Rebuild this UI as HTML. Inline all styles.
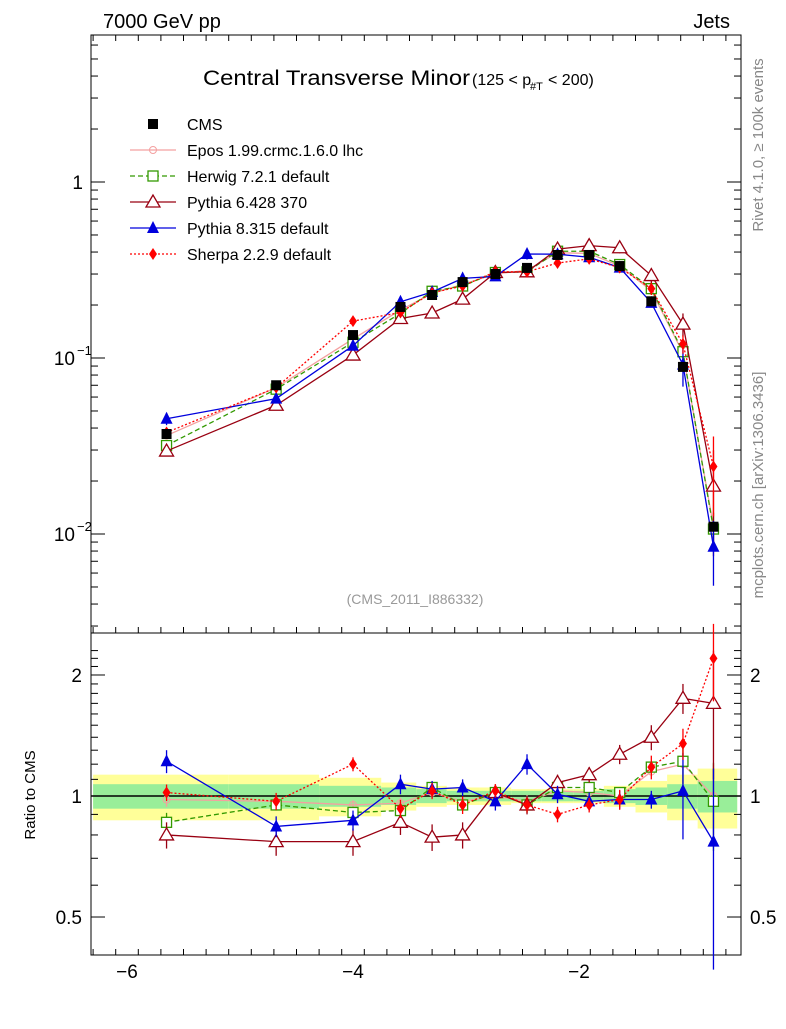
<!DOCTYPE html>
<html><head><meta charset="utf-8"><style>
body{margin:0;background:#fff;}
svg text{font-family:"Liberation Sans",sans-serif;}
</style></head><body>
<svg id="c" width="786" height="1024" xmlns="http://www.w3.org/2000/svg"></svg>
<script>
const xs = [-5.65,-4.68,-4.0,-3.58,-3.30,-3.03,-2.74,-2.46,-2.19,-1.91,-1.64,-1.36,-1.08,-0.81];
const edges = [-6.3,-5.1,-4.3,-3.75,-3.44,-3.17,-2.88,-2.6,-2.33,-2.05,-1.78,-1.5,-1.22,-0.95,-0.6];
const cms = [0.037,0.070,0.135,0.195,0.228,0.27,0.30,0.325,0.385,0.385,0.333,0.21,0.089,0.011];
const bandIn = [0.07,0.07,0.06,0.05,0.04,0.03,0.03,0.03,0.03,0.03,0.04,0.05,0.07,0.09];
const bandOut = [0.13,0.13,0.11,0.08,0.06,0.05,0.05,0.04,0.04,0.04,0.06,0.09,0.13,0.17];
const rEpos = [0.98,0.97,0.95,0.96,1.02,0.97,1.0,0.97,1.03,1.02,1.0,1.15,1.2,1.0];
const rHerwig = [0.86,0.95,0.91,0.92,1.05,0.95,1.02,0.95,1.05,1.05,1.02,1.18,1.22,0.97];
const rPy6 = [0.80,0.77,0.77,0.86,0.79,0.80,1.02,0.95,1.08,1.13,1.27,1.40,1.75,1.70];
const rPy8 = [1.22,0.84,0.87,1.07,1.04,1.05,0.97,1.20,1.01,0.97,0.98,0.98,1.03,0.77];
const rSherpa = [1.02,0.97,1.20,0.93,1.03,0.95,1.03,0.95,0.90,0.95,0.98,1.18,1.35,2.2];
const errPy8 = [0.08,0.05,0.05,0.06,0.05,0.05,0.05,0.07,0.05,0.05,0.05,0.05,0.25,0.4];
const errPy6 = [0.06,0.06,0.06,0.06,0.06,0.06,0.05,0.05,0.05,0.05,0.07,0.1,0.15,0.6];
const xTicks = [-6,-4,-2];
const ratioTicks = [0.5,1,2];

const svg=document.getElementById('c');const NS='http://www.w3.org/2000/svg';
function el(t,a,p){const e=document.createElementNS(NS,t);for(const k in a)e.setAttribute(k,a[k]);(p||svg).appendChild(e);return e;}
const X=v=>127+(v+6)*113;
const Y=v=>182-176*Math.log10(v);
const R=v=>796-402*Math.log10(v);
const L=91,Rt=741,T=35,M=633,B=955;

let f=el('rect',{x:L,y:T,width:Rt-L,height:M-T,fill:'none',stroke:'#000'});

f=el('rect',{x:L,y:M,width:Rt-L,height:B-M,fill:'none',stroke:'#000'});


for(let i=0;i<xs.length;i++){
 const x0=X(edges[i]),x1=X(edges[i+1]);
 let r=el('rect',{x:x0,y:R(1+bandOut[i]),width:x1-x0,height:R(1-bandOut[i])-R(1+bandOut[i]),fill:'#ffff99'});
 
 r=el('rect',{x:x0,y:R(1+bandIn[i]),width:x1-x0,height:R(1-bandIn[i])-R(1+bandIn[i]),fill:'#99ee99'});
 
}
el('line',{x1:L,x2:Rt,y1:R(1),y2:R(1),stroke:'#000','stroke-width':1.5});

for(let k=-65;k<=-4;k+=2){const v=k/10;const x=X(v);if(x<L||x>Rt)continue;const maj=k%10==0;const len=maj?12:6;
 el('line',{x1:x,x2:x,y1:M,y2:M-len,stroke:'#000'});el('line',{x1:x,x2:x,y1:B,y2:B-len,stroke:'#000'});el('line',{x1:x,x2:x,y1:T,y2:T+len,stroke:'#000'});}
xTicks.forEach(v=>{const t=el('text',{x:X(v),y:978,'font-size':19,'text-anchor':'middle'});t.textContent='\u2212'+Math.abs(v);
 });
for(let d=-3;d<=0;d++)for(let m=1;m<10;m++){const v=m*Math.pow(10,d);const y=Y(v);if(y<T||y>M)continue;const len=m==1?14:7;
 el('line',{x1:L,x2:L+len,y1:y,y2:y,stroke:'#000'});el('line',{x1:Rt,x2:Rt-len,y1:y,y2:y,stroke:'#000'});}
[[1,'1'],[0.1,'10'],[0.01,'10']].forEach(([v,s],i)=>{const t=el('text',{x:i==0?83:75,y:Y(v)+7,'font-size':19,'text-anchor':'end'});t.textContent=s;
 
 if(i>0){const e=el('text',{x:77,y:Y(v)-3,'font-size':13});e.textContent=i==1?'\u22121':'\u22122';}});
for(let v=0.4;v<=2.4;v+=0.1){const y=R(v);if(y<M||y>B)continue;const maj=[0.5,1,2].some(z=>Math.abs(z-v)<0.01);const len=maj?14:7;
 el('line',{x1:L,x2:L+len,y1:y,y2:y,stroke:'#000'});el('line',{x1:Rt,x2:Rt-len,y1:y,y2:y,stroke:'#000'});}
ratioTicks.forEach(v=>{let t=el('text',{x:82,y:R(v)+7,'font-size':19,'text-anchor':'end'});t.textContent=String(v);
 
 t=el('text',{x:750,y:R(v)+7,'font-size':19});t.textContent=String(v);
 });

function marker(type,x,y,col,g){
 if(type=='sq')el('rect',{x:x-5,y:y-5,width:10,height:10,fill:col},g);
 if(type=='osq')el('rect',{x:x-5,y:y-5,width:10,height:10,fill:'#fff',stroke:col,'stroke-width':1.3},g);
 if(type=='otri')el('polygon',{points:`${x},${y-7} ${x-7},${y+5} ${x+7},${y+5}`,fill:'#fff',stroke:col,'stroke-width':1.3},g);
 if(type=='tri')el('polygon',{points:`${x},${y-7} ${x-6},${y+5} ${x+6},${y+5}`,fill:col},g);
 if(type=='dia')el('polygon',{points:`${x},${y-6} ${x-4},${y} ${x},${y+6} ${x+4},${y}`,fill:col},g);
 if(type=='cross'){el('circle',{cx:x,cy:y,r:3.5,fill:'none',stroke:col},g);}
}
const series=[
 {name:'epos',r:rEpos,col:'#f4a0a0',m:'cross',dash:'',err:errPy8.map(e=>e*0.5)},
 {name:'herwig',r:rHerwig,col:'#339900',m:'osq',dash:'5,3',err:errPy8.map(e=>e*0.6)},
 {name:'pythia6',r:rPy6,col:'#990011',m:'otri',dash:'',err:errPy6},
 {name:'pythia8',r:rPy8,col:'#0000dd',m:'tri',dash:'',err:errPy8},
 {name:'sherpa',r:rSherpa,col:'#ff0000',m:'dia',dash:'2,2',err:errPy6.map(e=>e*0.8)},
];
series.forEach(s=>{
 const g=el('g',{});
 const g2=el('g',{});
 el('polyline',{points:xs.map((x,i)=>X(x)+','+Y(cms[i]*s.r[i])).join(' '),fill:'none',stroke:s.col,'stroke-width':1.3,'stroke-dasharray':s.dash},g);
 el('polyline',{points:xs.map((x,i)=>X(x)+','+R(s.r[i])).join(' '),fill:'none',stroke:s.col,'stroke-width':1.3,'stroke-dasharray':s.dash},g2);
 xs.forEach((x,i)=>{const v=cms[i]*s.r[i],e=s.err[i];
  el('line',{x1:X(x),x2:X(x),y1:Y(v*(1+e)),y2:Y(v*Math.max(0.2,1-e)),stroke:s.col,'stroke-width':1.3},g);
  el('line',{x1:X(x),x2:X(x),y1:R(s.r[i]+e),y2:R(Math.max(0.3,s.r[i]-e)),stroke:s.col,'stroke-width':1.3},g2);
  marker(s.m,X(x),Y(v),s.col,g);marker(s.m,X(x),R(s.r[i]),s.col,g2);});
});
const gc=el('g',{});
xs.forEach((x,i)=>marker('sq',X(x),Y(cms[i]),'#000',gc));

function txt(s,x,y,sz,a,name,col,extra){const t=el('text',Object.assign({x:x,y:y,'font-size':sz,'text-anchor':a||'start',fill:col||'#000'},extra||{}));t.textContent=s;return t;}
txt('7000 GeV pp',103,28,20,'start','energy-label');
txt('Jets',730,28,20,'end','process-label');
txt('Central Transverse Minor',203,85,21,'start','plot-title','#000',{textLength:267,lengthAdjust:'spacingAndGlyphs'});
txt('(125 < p',472,85,16,'start','title-cut');
txt('#T',530,90,11,'start','title-sub');
txt('< 200)',548,85,16,'start','title-cut-end');
txt('(CMS_2011_I886332)',415,604,14,'middle','analysis-id','#999');
txt('Ratio to CMS',35,795,15,'middle','y-axis-title','#000',{transform:'rotate(-90 35 795)'});
txt('Rivet 4.1.0, \u2265 100k events',763,145,15,'middle','rivet-label','#888',{transform:'rotate(-90 763 145)'});
txt('mcplots.cern.ch [arXiv:1306.3436]',763,485,15,'middle','mcplots-label','#888',{transform:'rotate(-90 763 485)'});
const leg=[['CMS','sq','#000',''],['Epos 1.99.crmc.1.6.0 lhc','cross','#f4a0a0',''],['Herwig 7.2.1 default','osq','#339900','5,3'],['Pythia 6.428 370','otri','#990011',''],['Pythia 8.315 default','tri','#0000dd',''],['Sherpa 2.2.9 default','dia','#ff0000','2,2']];
leg.forEach((l,i)=>{const y=124+i*26;const g=el('g',{});
 if(i>0)el('line',{x1:130,x2:176,y1:y,y2:y,stroke:l[2],'stroke-width':1.3,'stroke-dasharray':l[3]},g);
 marker(l[1],153,y,l[2],g);
 const t=el('text',{x:187,y:y+6,'font-size':16},g);t.textContent=l[0];});
</script>
</body></html>
